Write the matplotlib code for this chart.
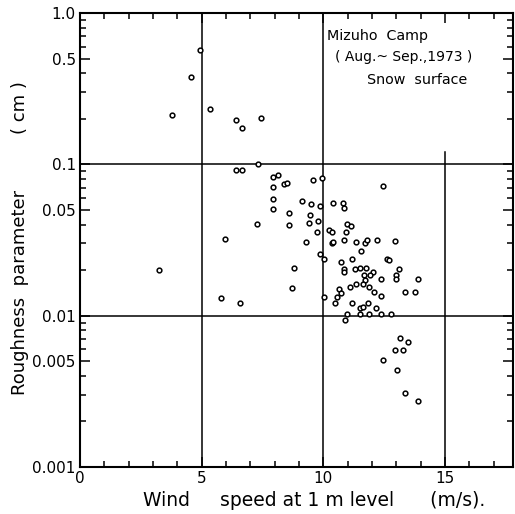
import matplotlib
matplotlib.use("Agg")
import matplotlib.pyplot as plt
from matplotlib.ticker import FixedLocator, FixedFormatter, NullFormatter
import numpy as np

# Wind speed at 1 m level (m/s)
wind = [4.94, 4.57, 3.77, 5.36, 6.41, 6.64, 7.46, 7.33, 6.42, 6.65,
        7.28, 5.97, 3.26, 5.79, 6.58,
        7.93, 8.12, 7.93, 8.38, 8.49, 9.56, 9.93, 7.93, 7.94, 9.12,
        9.51, 9.88, 10.42, 10.82, 10.84, 8.61, 8.61, 9.44, 9.41, 9.78,
        10.99, 9.74, 10.25, 10.36, 10.95, 9.30,
        12.46, 11.14, 10.85, 11.34, 11.70, 11.78, 12.22, 12.96,
        10.36, 10.41, 9.85, 10.03, 8.81, 10.71, 10.84, 10.86, 8.70,
        10.66, 10.74, 10.05, 10.55, 10.47, 10.99, 10.88, 11.10,
        11.55, 11.18, 12.63, 12.72, 11.29, 11.51, 11.76, 12.03, 11.66,
        11.92, 13.11, 13.00, 12.98, 13.90, 11.70, 12.37, 11.36, 11.63,
        11.88, 12.08, 12.36, 13.37, 13.76, 11.18, 11.85, 11.52, 11.63,
        12.15, 11.51, 11.88, 12.36, 12.79,
        13.15, 13.47, 12.96, 13.26, 12.47, 13.02, 13.36, 13.90]

# Roughness parameter (cm)
z0 = [0.567, 0.379, 0.213, 0.232, 0.195, 0.175, 0.202, 0.100, 0.0917, 0.0917,
      0.0405, 0.0319, 0.0200, 0.0130, 0.0122,
      0.0828, 0.0850, 0.0711, 0.0744, 0.0752, 0.0784, 0.0812, 0.0593, 0.0506, 0.0569,
      0.0549, 0.0530, 0.0552, 0.0557, 0.0513, 0.0475, 0.0399, 0.0460, 0.0407, 0.0422,
      0.0405, 0.0357, 0.0366, 0.0359, 0.0359, 0.0306,
      0.0715, 0.0389, 0.0318, 0.0306, 0.0302, 0.0318, 0.0318, 0.0310,
      0.0300, 0.0306, 0.0255, 0.0237, 0.0205, 0.0225, 0.0204, 0.0194, 0.0153,
      0.0151, 0.0142, 0.0132, 0.0132, 0.0121, 0.0102, 0.0094, 0.0154,
      0.0267, 0.0236, 0.0236, 0.0235, 0.0204, 0.0207, 0.0205, 0.0195, 0.0185,
      0.0185, 0.0204, 0.0185, 0.0174, 0.0175, 0.0172, 0.0174, 0.0163, 0.0163,
      0.0154, 0.0143, 0.0134, 0.0144, 0.0144, 0.0122, 0.0122, 0.0112, 0.0114,
      0.0113, 0.0102, 0.0102, 0.0102, 0.0102,
      0.00711, 0.00673, 0.00593, 0.00593, 0.00509, 0.00440, 0.00306, 0.00275]

x_ticks = [0, 5, 10, 15]
x_ticklabels = ["0", "5", "10", "15"]
y_ticks = [0.001, 0.005, 0.01, 0.05, 0.1, 0.5, 1.0]
y_ticklabels = ["0.001", "0.005", "0.01", "0.05", "0.1", "0.5", "1.0"]

fig = plt.figure(figsize=(5.15, 5.14), dpi=100)
W, H = 515, 514
ax = fig.add_axes([80 / W, (H - 467) / H, (513 - 80) / W, (467 - 13) / H])
ax.set_yscale("log")
ax.set_xlim(0, 17.8)
ax.set_ylim(0.001, 1.0)

# reference lines
for xv in (5, 10):
    ax.axvline(xv, color="black", lw=1.1, zorder=1)
ax.plot([15, 15], [0.001, 0.12], color="black", lw=1.1, zorder=1)
for yv in (0.01, 0.1):
    ax.axhline(yv, color="black", lw=1.1, zorder=1)

ax.plot(wind, z0, linestyle="none", marker="o", markersize=3.4,
        markerfacecolor="white", markeredgecolor="black", markeredgewidth=1.1, zorder=3)

ax.xaxis.set_major_locator(FixedLocator(x_ticks))
ax.xaxis.set_major_formatter(FixedFormatter(x_ticklabels))
ax.xaxis.set_minor_locator(FixedLocator(np.arange(0, 18, 1)))
ax.yaxis.set_major_locator(FixedLocator(y_ticks))
ax.yaxis.set_major_formatter(FixedFormatter(y_ticklabels))
minors = [m * 10.0 ** e for e in (-3, -2, -1) for m in (2, 3, 4, 6, 7, 8, 9)]
ax.yaxis.set_minor_locator(FixedLocator(minors))
ax.yaxis.set_minor_formatter(NullFormatter())

ax.tick_params(which="both", direction="in", top=True, right=True, width=1.1,
               labelsize=11, colors="black")
ax.tick_params(which="major", length=7, pad=3)
ax.tick_params(which="minor", length=4.5)
for s in ax.spines.values():
    s.set_linewidth(1.5)

ax.text(10.16, 0.705, "Mizuho  Camp", fontsize=10.3, ha="left", va="center")
ax.text(10.5, 0.512, "( Aug.~ Sep.,1973 )", fontsize=10.0, ha="left", va="center")
ax.text(11.8, 0.361, "Snow  surface", fontsize=10.3, ha="left", va="center")

fig.text(314 / W, 1 - 500 / H, "Wind     speed at 1 m level      (m/s).", fontsize=13.5,
         ha="center", va="center")
fig.text(20 / W, 1 - 292 / H, "Roughness  parameter", fontsize=13,
         ha="center", va="center", rotation=90)
fig.text(20 / W, 1 - 108 / H, "( cm )", fontsize=13,
         ha="center", va="center", rotation=90)

fig.savefig("out.png", dpi=100)
